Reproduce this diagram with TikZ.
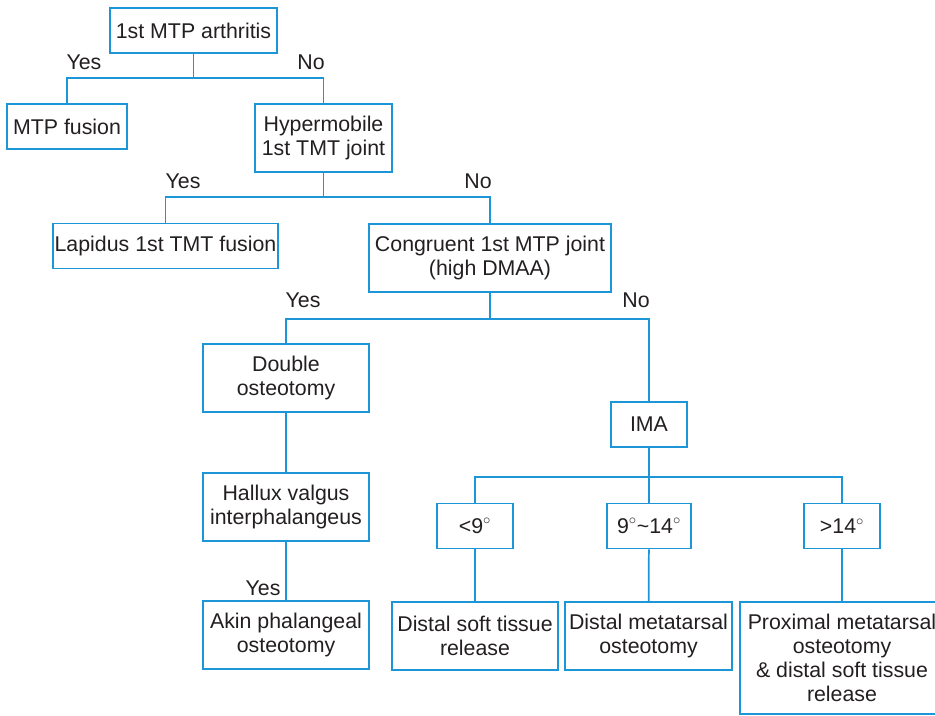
\documentclass[tikz,border=0pt]{standalone}
\usepackage{fontspec}
\setmainfont{Liberation Sans}

\definecolor{linkblue}{RGB}{28,150,215}
\definecolor{inkgray}{RGB}{35,31,32}

\tikzset{
	box/.style={draw=linkblue, line width=1.3pt, text=inkgray, align=center, inner sep=0pt, font=\fontsize{16}{18}\selectfont},
	onerow/.style={box, minimum height=33.75pt},
	tworow/.style={box, minimum height=51pt},
	link/.style={draw=linkblue, line width=1.3pt},
	answer/.style={text=inkgray, font=\fontsize{16}{18}\selectfont}
}

\begin{document}
\begin{tikzpicture}[x=0.75pt, y=-0.75pt]
	\clip (0,0) rectangle (935,715);

	% decision boxes
	\node [onerow, minimum width=125pt] (arth) at (193.5,30.5) {1st MTP arthritis};
	\node [onerow, minimum width=90pt] (fusion) at (67,126.5) {MTP fusion};
	\node [tworow, minimum width=103pt] (hyper) at (323.5,138) {Hypermobile\\1st TMT joint};
	\node [onerow, minimum width=169pt] (lapidus) at (165.5,246) {Lapidus 1st TMT fusion};
	\node [tworow, minimum width=181.5pt] (congr) at (490,258) {Congruent 1st MTP joint\\(high DMAA)};
	\node [tworow, minimum width=124.5pt] (double) at (286,378) {Double\\osteotomy};
	\node [onerow, minimum width=57pt] (ima) at (649,424.5) {IMA};
	\node [tworow, minimum width=124.5pt] (hallux) at (286,507) {Hallux valgus\\interphalangeus};
	\node [tworow, minimum width=124.5pt] (akin) at (286,635) {Akin phalangeal\\osteotomy};

	% angle classes
	\node [onerow, minimum width=57pt] (lt9) at (475,526) {<9$^{\circ}$};
	\node [onerow, minimum width=62.5pt] (mid) at (649,526) {9$^{\circ}$\textasciitilde 14$^{\circ}$};
	\node [onerow, minimum width=57pt] (gt14) at (842,526) {>14$^{\circ}$};

	\node [tworow, minimum width=124.5pt] (dsoft) at (475,636) {Distal soft tissue\\release};
	\node [tworow, minimum width=125pt] (dmeta) at (648.5,636) {Distal metatarsal\\osteotomy};
	\node [box, minimum width=153pt, minimum height=84pt] (prox) at (842,658) {Proximal metatarsal\\osteotomy\\\& distal soft tissue\\release};

	% branch points
	\coordinate (s1) at (193.5,78);
	\coordinate (s2) at (323.5,197);
	\coordinate (s3) at (490,319);
	\coordinate (s4) at (649,477);

	\draw [link] (arth) -- (s1);
	\draw [link] (fusion.north) |- (s1) -| (hyper.north);
	\draw [link] (hyper) -- (s2);
	\draw [link] (lapidus.north) |- (s2) -| (congr.north);
	\draw [link] (congr) -- (s3);
	\draw [link] (double.north) |- (s3) -| (ima.north);
	\draw [link] (double) -- (hallux);
	\draw [link] (hallux) -- (akin);
	\draw [link] (ima) -- (s4);
	\draw [link] (lt9.north) |- (s4) -| (gt14.north);
	\draw [link] (s4) -- (mid);
	\draw [link] (lt9) -- (dsoft);
	\draw [link] (mid) -- (dmeta);
	\draw [link] (gt14) -- (prox);

	% answers
	\node [answer] (yes1) at (84,62) {Yes};
	\node [answer] (no1) at (311,62) {No};
	\node [answer] (yes2) at (183,181) {Yes};
	\node [answer] (no2) at (478,181) {No};
	\node [answer] (yes3) at (303,300) {Yes};
	\node [answer] (no3) at (636,300) {No};
	\node [answer] (yes4) at (263,588) {Yes};
\end{tikzpicture}
\end{document}
